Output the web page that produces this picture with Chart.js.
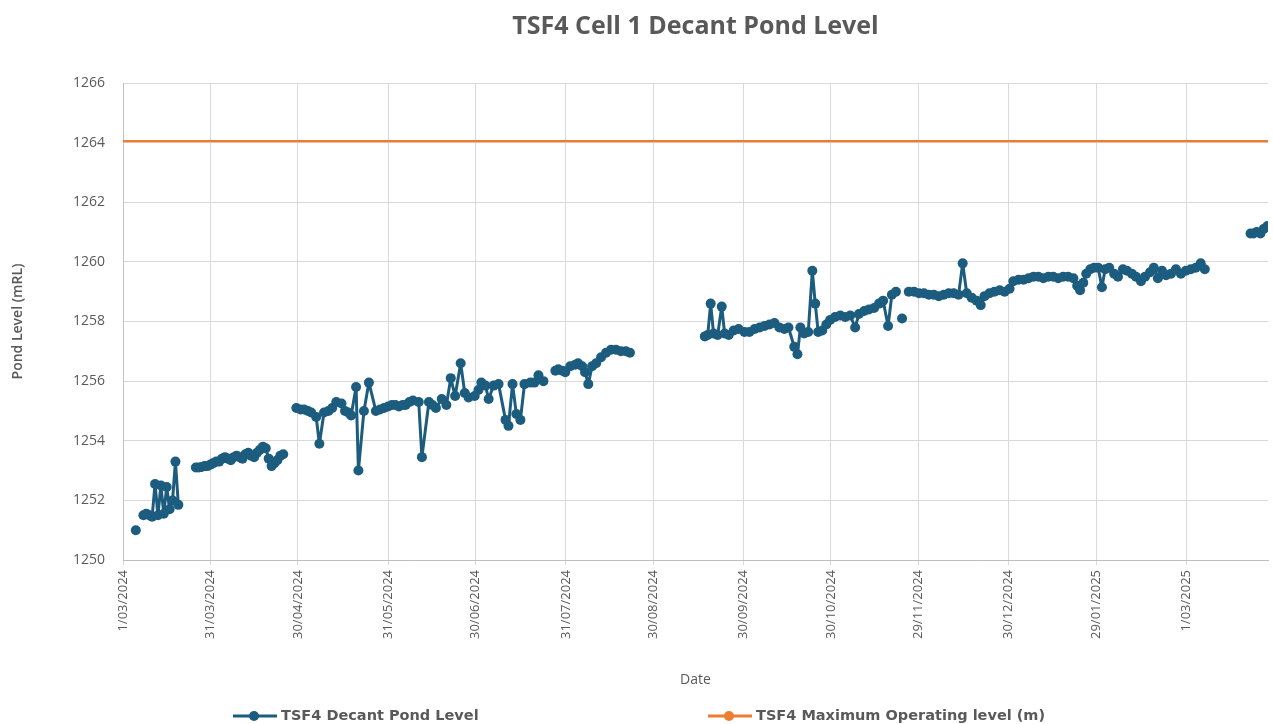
<!DOCTYPE html>
<html>
<head>
<meta charset="utf-8">
<title>TSF4 Cell 1 Decant Pond Level</title>
<script src="https://cdn.jsdelivr.net/npm/chart.js@4.4.1/dist/chart.umd.min.js"></script>
<style>
  html, body { margin: 0; padding: 0; background: #ffffff; }
  #wrap { width: 1273px; height: 724px; overflow: hidden; }
</style>
</head>
<body>
<div id="wrap"><canvas id="pond-chart" width="1273" height="724"></canvas></div>
<script>
// x values are days counted from 1/03/2024
const tickDays = [0, 30, 60, 91, 121, 152, 182, 213, 243, 273, 304, 334, 365];
const tickLabels = ['1/03/2024', '31/03/2024', '30/04/2024', '31/05/2024', '30/06/2024', '31/07/2024',
    '30/08/2024', '30/09/2024', '30/10/2024', '29/11/2024', '30/12/2024', '29/01/2025', '1/03/2025'];

// null = no reading (line breaks there)
const pondDays = [
    4.4, 5.5,
    7, 8, 9, 10, 11, 12, 13, 14, 15, 16, 17, 18, 19, 21,
    25, 26, 27, 28, 29, 30, 31, 32, 33, 34, 35, 36, 37, 38, 39, 40, 41, 42, 43, 44, 45,
    46, 47, 48, 49, 50, 51, 52, 53, 54, 55, 57,
    59.5, 61, 62.2, 63.5, 64.6, 66.3, 67.4, 69, 70.5, 71.8, 73.2, 75, 76.2, 77.3, 78.3, 80, 80.8,
    82.7, 84.4, 86.8, 88.2, 89.6, 91, 92.3, 93.5, 94.7, 96, 97, 98.3, 99.5, 101.5, 102.6,
    105, 106.2, 107.4, 109.4, 111, 112.5, 114, 115.9, 117.3, 118.6, 120.7, 122, 123, 124.4,
    125.5, 127.2, 128.9, 131.3, 132.3, 133.7, 135, 136.4, 137.8, 139.8, 141.2, 142.6, 144.3, 146,
    148.4, 149.4, 150.8, 151.8, 153.5, 155.2, 156.2, 157.6, 158.6, 159.7, 161, 162.4, 164.1,
    165.8, 167.5, 169.2, 170.9, 172.6, 174, 176,
    199.7, 200.7, 201.7, 202.7, 204.1, 205.5, 206.5, 207.9, 209.6, 211.3, 213.3, 215, 216.8,
    218.5, 220.2, 221.9, 223.6, 225.3, 227, 228.4, 230.4, 231.5, 232.5, 233.8, 235.2, 236.6,
    237.6, 238.6, 240, 241.4, 242.7, 244.4, 246.2, 247.9, 249.6, 251.3, 252.6, 254.4, 256,
    257.8, 259.5, 260.9, 262.6, 263.9, 265.3, 266.4,
    267.4, 268.5,
    269.7, 271.5, 273.2, 274.9, 276.6, 278.3, 280, 281.7, 283.4, 285.1, 286.8, 288.2, 289.6,
    291.3, 293, 294.4, 295.7, 297.4, 299.1, 300.9, 302.6, 304.3, 305.6, 307.4, 309.1, 310.8,
    312.5, 314.2, 315.9, 317.6, 319.3, 321, 322.7, 324.4, 326.2, 327.5, 328.5, 329.6, 330.6,
    332, 333.3, 334.7, 336, 337.1, 338.5, 340.2, 341.5, 343.2, 344.6, 346.3, 347.7, 349.4,
    350.8, 352.5, 353.8, 355.2, 356.6, 358, 359.7, 361.4, 363.1, 364.8, 366.5, 368.2, 369.9,
    371.3, 374,
    387, 388, 389.1, 390.4, 391.5, 392.8
];
const pondLevels = [
    1251.0, null,
    1251.5, 1251.55, 1251.5, 1251.45, 1252.55, 1251.5, 1252.5, 1251.55, 1252.45, 1251.7, 1252.0, 1253.3, 1251.85, null,
    1253.1, 1253.1, 1253.12, 1253.15, 1253.15, 1253.2, 1253.25, 1253.3, 1253.3, 1253.4, 1253.45, 1253.4,
    1253.35, 1253.45, 1253.5, 1253.45, 1253.4, 1253.55, 1253.6, 1253.5, 1253.45,
    1253.6, 1253.7, 1253.8, 1253.75, 1253.4, 1253.15, 1253.25, 1253.35, 1253.5, 1253.55, null,
    1255.1, 1255.05, 1255.05, 1255.0, 1254.95, 1254.8, 1253.9, 1254.95, 1255.0, 1255.1, 1255.3, 1255.25,
    1255.0, 1254.95, 1254.85, 1255.8, 1253.0,
    1255.0, 1255.95, 1255.0, 1255.05, 1255.1, 1255.15, 1255.2, 1255.2, 1255.15, 1255.2, 1255.2, 1255.3,
    1255.35, 1255.3, 1253.45,
    1255.3, 1255.2, 1255.1, 1255.4, 1255.2, 1256.1, 1255.5, 1256.6, 1255.6, 1255.45, 1255.5, 1255.7,
    1255.95, 1255.85,
    1255.4, 1255.85, 1255.9, 1254.7, 1254.5, 1255.9, 1254.9, 1254.7, 1255.9, 1255.95, 1255.95, 1256.2,
    1256.0, null,
    1256.35, 1256.4, 1256.35, 1256.3, 1256.5, 1256.55, 1256.6, 1256.5, 1256.3, 1255.9, 1256.5, 1256.6,
    1256.8, 1256.95, 1257.05, 1257.05, 1257.0, 1257.0, 1256.95, null,
    1257.5, 1257.55, 1258.6, 1257.6, 1257.55, 1258.5, 1257.6, 1257.55, 1257.7, 1257.75, 1257.65, 1257.65,
    1257.75, 1257.8, 1257.85, 1257.9, 1257.95, 1257.8, 1257.75, 1257.8, 1257.15, 1256.9, 1257.8, 1257.6,
    1257.65, 1259.7, 1258.6, 1257.65, 1257.7, 1257.9, 1258.05, 1258.15, 1258.2, 1258.15, 1258.2, 1257.8,
    1258.25, 1258.35, 1258.4, 1258.45, 1258.6, 1258.7, 1257.85, 1258.9, 1259.0, null,
    1258.1, null,
    1259.0, 1259.0, 1258.95, 1258.95, 1258.9, 1258.9, 1258.85, 1258.9, 1258.95, 1258.95, 1258.9, 1259.95,
    1258.95, 1258.8, 1258.7, 1258.55, 1258.85, 1258.95, 1259.0, 1259.05, 1259.0, 1259.1, 1259.35, 1259.4,
    1259.4, 1259.45, 1259.5, 1259.5, 1259.45, 1259.5, 1259.5, 1259.45, 1259.5, 1259.5, 1259.45, 1259.2,
    1259.05, 1259.3, 1259.6, 1259.75, 1259.8, 1259.8, 1259.15, 1259.75, 1259.8, 1259.6, 1259.5, 1259.75,
    1259.7, 1259.6, 1259.5, 1259.35, 1259.5, 1259.65, 1259.8, 1259.45, 1259.7, 1259.55, 1259.6, 1259.75,
    1259.6, 1259.7, 1259.75, 1259.8, 1259.95, 1259.75, null,
    1260.95, 1260.95, 1261.0, 1260.95, 1261.1, 1261.2
];

const maxLevelDays = [0, 393];
const maxLevelValues = [1264.05, 1264.05];

const BLUE = '#1c5c7e';
const ORANGE = '#ed7d31';
const GREY_TEXT = '#595959';

// excel-style legend under the axis title: line with a dot, then the name
const bottomLegend = {
    id: 'bottomLegend',
    afterDraw(chart, args, opts) {
        const ctx = chart.ctx;
        const y = chart.height - opts.bottom;
        ctx.save();
        ctx.font = opts.font;
        ctx.textBaseline = 'middle';
        chart.data.datasets.forEach((ds, i) => {
            const x = opts.starts[i];
            ctx.strokeStyle = ds.borderColor;
            ctx.lineWidth = 3;
            ctx.beginPath();
            ctx.moveTo(x, y);
            ctx.lineTo(x + 44, y);
            ctx.stroke();
            ctx.fillStyle = ds.borderColor;
            ctx.beginPath();
            ctx.arc(x + 21, y, 5, 0, Math.PI * 2);
            ctx.fill();
            ctx.fillStyle = opts.color;
            ctx.fillText(ds.label, x + 48, y);
        });
        ctx.restore();
    }
};

new Chart(document.getElementById('pond-chart'), {
    type: 'line',
    data: {
        datasets: [{
            label: 'TSF4 Decant Pond Level',
            data: pondDays.map((d, i) => ({ x: d, y: pondLevels[i] })),
            borderColor: BLUE,
            backgroundColor: BLUE,
            borderWidth: 3,
            borderJoinStyle: 'round',
            borderCapStyle: 'round',
            pointRadius: 5,
            pointBorderWidth: 0,
            tension: 0,
            spanGaps: false
        }, {
            label: 'TSF4 Maximum Operating level (m)',
            data: maxLevelDays.map((d, i) => ({ x: d, y: maxLevelValues[i] })),
            borderColor: ORANGE,
            backgroundColor: ORANGE,
            borderWidth: 2.2,
            pointRadius: 0
        }]
    },
    plugins: [bottomLegend],
    options: {
        responsive: false,
        devicePixelRatio: 1,
        animation: false,
        events: [],
        layout: { padding: { left: 0, right: 0, top: 0, bottom: 32 } },
        plugins: {
            legend: { display: false },
            tooltip: { enabled: false },
            title: {
                display: true,
                fullSize: false,
                text: 'TSF4 Cell 1 Decant Pond Level',
                color: GREY_TEXT,
                font: { family: '"Open Sans"', size: 25, weight: 'bold' },
                padding: { top: 12, bottom: 41 }
            },
            bottomLegend: {
                starts: [233, 708],
                bottom: 8,
                font: 'bold 14.5px "DejaVu Sans"',
                color: GREY_TEXT
            }
        },
        scales: {
            x: {
                type: 'linear',
                min: 0,
                max: 393,
                afterBuildTicks: (axis) => {
                    axis.ticks = tickDays.map(v => ({ value: v }));
                },
                afterFit: (scale) => { scale.height = 132; },
                ticks: {
                    autoSkip: false,
                    minRotation: 90,
                    maxRotation: 90,
                    padding: 5,
                    color: GREY_TEXT,
                    font: { family: '"Open Sans"', size: 13 },
                    callback: (value) => tickLabels[tickDays.indexOf(value)]
                },
                grid: { color: '#d9d9d9', lineWidth: 1, drawTicks: true, tickLength: 5 },
                border: { color: '#bfbfbf', width: 1 },
                title: {
                    display: true,
                    text: 'Date',
                    color: GREY_TEXT,
                    font: { family: '"Open Sans"', size: 14 },
                    padding: { top: 4, bottom: 4 }
                }
            },
            y: {
                min: 1250,
                max: 1266,
                afterFit: (scale) => { scale.width = 123; },
                ticks: {
                    stepSize: 2,
                    padding: 18,
                    color: GREY_TEXT,
                    font: { family: '"Open Sans"', size: 14 },
                    callback: (value) => String(value)
                },
                grid: { color: '#d9d9d9', lineWidth: 1, drawTicks: false },
                border: { color: '#bfbfbf', width: 1 },
                title: {
                    display: true,
                    text: 'Pond Level (mRL)',
                    color: GREY_TEXT,
                    font: { family: '"Open Sans"', size: 14, weight: '600' },
                    padding: { top: 10, bottom: 0 }
                }
            }
        }
    }
});
</script>
</body>
</html>
